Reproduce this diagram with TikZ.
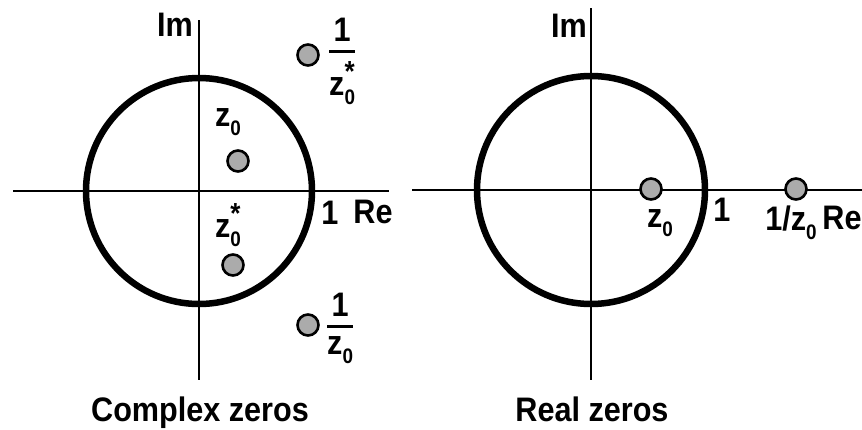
\documentclass[tikz,border=0pt]{standalone}
\usepackage{amsmath}
\usepackage{fontspec}
\setmainfont{Liberation Sans}[FakeStretch=0.9]
\newcommand\subz[1]{\raisebox{-0.25em}{\fontsize{21}{21}\selectfont #1}}
\newcommand\zo{z\subz{0}}
\newcommand\zos{z\rlap{\raisebox{0.42em}{\fontsize{29}{29}\selectfont *}}\subz{0}}
\newcommand\fracbox[2]{{\nulldelimiterspace=3pt$\genfrac{}{}{2.8pt}{0}{\text{#1}}{\text{#2}}$}}
\begin{document}
\begin{tikzpicture}[x=1pt,y=-1pt,
  lab/.style={inner sep=0pt,font=\fontsize{34}{38}\selectfont\bfseries},
  axis/.style={line width=2.6pt},
  unit/.style={line width=6.5pt},
  pt/.style={circle,draw,line width=2.6pt,fill=black!33,minimum size=21pt,inner sep=0pt}]
\useasboundingbox (0,0) rectangle (862,429);
% ---------- left: complex zeros
\coordinate (lO) at (199,191);
\coordinate (lT) at (199,20);
\coordinate (lB) at (199,380);
\coordinate (lL) at (13,191);
\coordinate (lR) at (389,191);
\draw[axis] (lT) -- (lB);
\draw[axis] (lL) -- (lR);
\draw[unit] (lO) circle[radius=113];
\node[pt] (a1) at (308,55) {};
\node[pt] (a2) at (238,161) {};
\node[pt] (a3) at (233,265) {};
\node[pt] (a4) at (308,325) {};
\node[lab,anchor=west] (fa1) at (326,61) {\fracbox{1}{\zos}};
\node[lab] (la2) at (228,122) {\zo};
\node[lab] (la3) at (228,225) {\zos};
\node[lab,anchor=west] (fa4) at (324,328) {\fracbox{1}{\zo}};
\node[lab] (one1) at (330,213) {1};
\node[lab] (re1) at (373,212) {Re};
\node[lab] (im1) at (175,25) {Im};
\node[lab,anchor=base] (cap1) at (200,421) {Complex zeros};
% ---------- right: real zeros
\coordinate (rO) at (591,190);
\coordinate (rT) at (591,8);
\coordinate (rB) at (591,380);
\coordinate (rL) at (412,190);
\coordinate (rR) at (862,190);
\draw[axis] (rT) -- (rB);
\draw[axis] (rL) -- (rR);
\draw[unit] (rO) circle[radius=114];
\node[pt] (b1) at (651,189) {};
\node[pt] (b2) at (796,189) {};
\node[lab] (lb1) at (660,223) {\zo};
\node[lab] (one2) at (722,210) {1};
\node[lab] (lb2) at (791,223) {1/\zo};
\node[lab] (re2) at (842,218) {Re};
\node[lab] (im2) at (569,26) {Im};
\node[lab,anchor=base] (cap2) at (592,421) {Real zeros};
\end{tikzpicture}
\end{document}
